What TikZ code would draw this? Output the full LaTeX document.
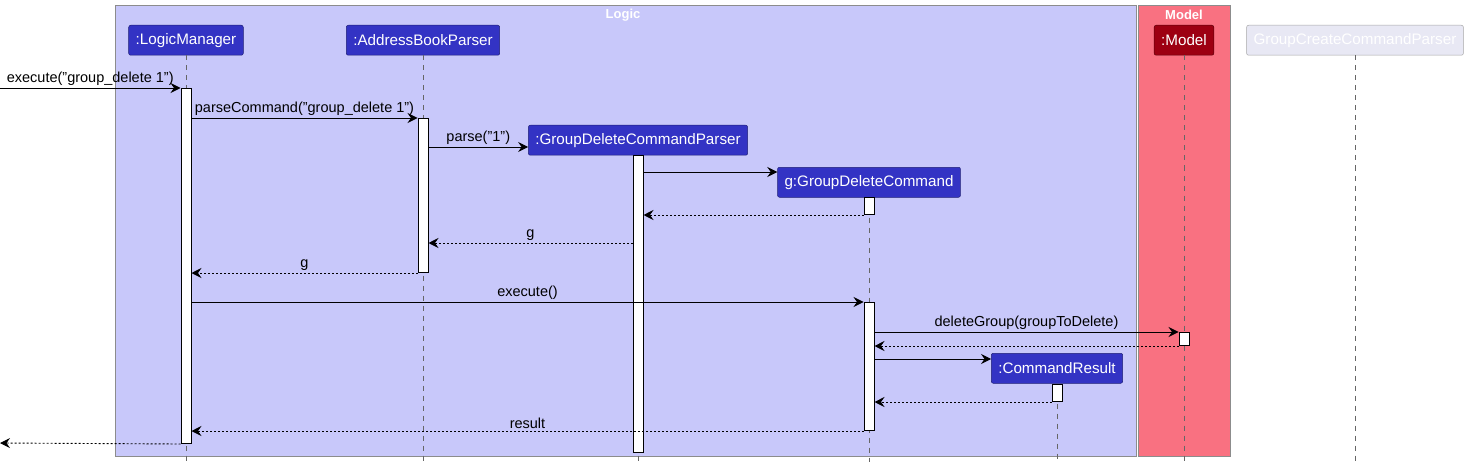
\documentclass[tikz,border=0pt]{standalone}
\usepackage{fontspec}
\setmainfont{Liberation Sans}
\usetikzlibrary{arrows.meta,positioning}

\definecolor{logicbg}{HTML}{C8C8FA}
\definecolor{modelbg}{HTML}{F97181}
\definecolor{partblue}{HTML}{3333C4}
\definecolor{partred}{HTML}{9D0012}
\definecolor{ghostbg}{HTML}{E8E8F4}

\tikzset{
  frame/.style={draw=black!45, line width=1},
  frametitle/.style={text=white, font=\fontsize{13}{15}\selectfont\bfseries},
  part/.style={draw=partblue!60!black, line width=0.5, fill=partblue, text=white,
    rounded corners=2, minimum height=30, inner xsep=7, anchor=north,
    font=\fontsize{15.2}{17}\selectfont},
  actbar/.style={draw=black, line width=1, fill=white, minimum width=10, inner sep=0, anchor=north},
  life/.style={draw=black!60, line width=0.8, dash pattern=on 5 off 5},
  msg/.style={-{Stealth[length=10,width=10,inset=3.5]}, line width=0.9},
  ret/.style={msg, dash pattern=on 2 off 2},
  lbl/.style={midway, above, inner sep=2, font=\fontsize{14.5}{16}\selectfont}
}

\begin{document}
\begin{tikzpicture}[x=1pt,y=-1pt]
  \useasboundingbox (0,0) rectangle (1467,468);

  % boxes
  \draw[frame, fill=logicbg] (115,6) rectangle (1136,456);
  \draw[frame, fill=modelbg] (1138,6) rectangle (1230,456);
  \node[frametitle] (logictitle) at (623,15) {Logic};
  \node[frametitle] (modeltitle) at (1184,15) {Model};

  % participants
  \node[part] (lm) at (186,25) {:LogicManager};
  \node[part] (abp) at (423,25) {:AddressBookParser};
  \node[part] (gdcp) at (638,125) {:GroupDeleteCommandParser};
  \node[part] (gdc) at (869,167) {g:GroupDeleteCommand};
  \node[part] (cr) at (1057,353) {:CommandResult};
  \node[part, fill=partred, draw=partred!60!black] (model) at (1184,25) {:Model};
  \node[part, fill=ghostbg, draw=black!35, text=white] (gccp) at (1355,25) {GroupCreateCommandParser};

  % lifelines
  \foreach \p in {lm,abp,gdcp,gdc,cr,model,gccp}
    \draw[life] (\p.south) -- (\p.south |- 0,462);

  % activations
  \node[actbar, minimum height=355] (lmbar) at (186,88) {};
  \node[actbar, minimum height=154] (abpbar) at (423,118) {};
  \node[actbar, minimum height=297] (gdcpbar) at (638,155) {};
  \node[actbar, minimum height=17] (gdcbar) at (869,197) {};
  \node[actbar, minimum height=128] (gdcexec) at (869,302) {};
  \node[actbar, minimum height=13] (modelbar) at (1184,332) {};
  \node[actbar, minimum height=17] (crbar) at (1057,384) {};

  \coordinate (callin) at (0,88);
  \coordinate (callout) at (0,443);

  % messages
  \draw[msg] (callin) -- (lmbar.west |- callin) node[lbl]{execute("group\_delete 1")};
  \draw[msg] (lmbar.east |- 0,118) -- (abpbar.west |- 0,118) node[lbl]{parseCommand("group\_delete 1")};
  \draw[msg] (abpbar.east |- 0,147) -- (gdcp.west |- 0,147) node[lbl]{parse("1")};
  \draw[msg] (gdcpbar.east |- 0,172) -- (gdc.west |- 0,172);
  \draw[ret] (gdcbar.south west) -- (gdcpbar.east |- gdcbar.south);
  \draw[ret] (gdcpbar.west |- 0,243) -- (abpbar.east |- 0,243) node[lbl]{g};
  \draw[ret] (abpbar.south west) -- (lmbar.east |- abpbar.south) node[lbl]{g};
  \draw[msg] (lmbar.east |- gdcexec.north) -- (gdcexec.north west) node[lbl]{execute()};
  \draw[msg] (gdcexec.east |- modelbar.north) -- (modelbar.north west) node[lbl]{deleteGroup(groupToDelete)};
  \draw[ret] (modelbar.south west) -- (gdcexec.east |- modelbar.south);
  \draw[msg] (gdcexec.east |- 0,359) -- (cr.west |- 0,359);
  \draw[ret] (crbar.south west) -- (gdcexec.east |- crbar.south);
  \draw[ret] (gdcexec.south west) -- (lmbar.east |- gdcexec.south) node[lbl]{result};
  \draw[ret] (lmbar.south west) -- (callout);
\end{tikzpicture}
\end{document}
